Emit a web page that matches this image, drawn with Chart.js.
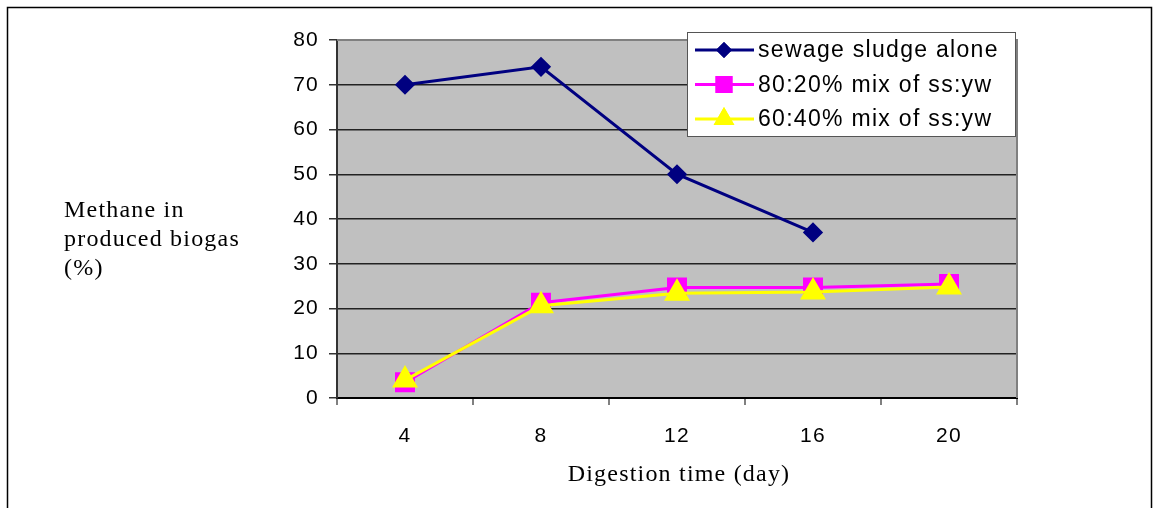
<!DOCTYPE html>
<html>
<head>
<meta charset="utf-8">
<script src="https://cdn.jsdelivr.net/npm/chart.js@4"></script>
<style>
  html, body { margin: 0; padding: 0; background: #fff; }
  #wrap { width: 1161px; height: 508px; position: relative; }
</style>
</head>
<body>
<div id="wrap"><canvas id="myChart" width="1161" height="508"></canvas></div>
<script>
    // Digestion days on the x axis
    const days = ['4', '8', '12', '16', '20'];

    // Methane content (%) per feed
    const sewageAlone = [70, 74, 50, 37, null];
    const mix8020 = [3.5, 21.3, 24.7, 24.7, 25.5];
    const mix6040 = [4, 20.6, 23.4, 23.7, 24.8];

    const seriesNames = ['sewage sludge alone', '80:20% mix of ss:yw', '60:40% mix of ss:yw'];

    const yTitle = ['Methane in', 'produced biogas', '(%)'];
    const xTitle = 'Digestion time (day)';

    const sans = '"Liberation Sans", Arial, sans-serif';
    const serif = '"Liberation Serif", "Times New Roman", serif';

    // gray plot background, outer frame, axis titles, legend box
    const frame = {
    id: 'frame',
    beforeDraw(chart) {
        const c = chart.ctx, a = chart.chartArea;
        c.save();
        c.fillStyle = '#c0c0c0';
        c.fillRect(a.left, a.top, a.right - a.left, a.bottom - a.top);
        c.restore();
        c.letterSpacing = '1.2px';
    },
    afterDraw(chart) {
        const c = chart.ctx, a = chart.chartArea;
        c.save();
        // plot border top / right
        c.strokeStyle = '#808080';
        c.lineWidth = 2;
        c.beginPath();
        c.moveTo(a.left, a.top);
        c.lineTo(a.right, a.top);
        c.lineTo(a.right, a.bottom);
        c.stroke();

        // outer frame
        c.strokeStyle = '#000';
        c.lineWidth = 1.5;
        c.beginPath();
        c.moveTo(7.5, 508);
        c.lineTo(7.5, 7.5);
        c.lineTo(1151.5, 7.5);
        c.lineTo(1151.5, 508);
        c.stroke();

        // titles
        c.fillStyle = '#000';
        c.letterSpacing = '1.2px';
        c.font = '24px ' + serif;
        c.textAlign = 'left';
        c.textBaseline = 'alphabetic';
        yTitle.forEach((t, i) => c.fillText(t, 64, 217 + i * 29));
        c.textAlign = 'center';
        c.fillText(xTitle, 679, 481);

        // legend box
        const lx = 687, ly = 32, lw = 328, lh = 104;
        c.fillStyle = '#fff';
        c.fillRect(lx, ly, lw, lh);
        c.strokeStyle = '#555';
        c.lineWidth = 1;
        c.strokeRect(lx + 0.5, ly + 0.5, lw, lh);

        c.font = '23px ' + sans;
        c.letterSpacing = '1.3px';
        c.textAlign = 'left';
        c.textBaseline = 'middle';
        chart.data.datasets.forEach((ds, i) => {
            const y = 50 + i * 34.5;
            c.strokeStyle = ds.borderColor;
            c.lineWidth = 3;
            c.beginPath();
            c.moveTo(695, y);
            c.lineTo(754, y);
            c.stroke();
            c.fillStyle = ds.pointBackgroundColor;
            Chart.helpers.drawPoint(c, {
                pointStyle: ds.pointStyle,
                radius: ds.pointRadius,
                borderWidth: 0,
                rotation: 0
            }, 724, y);
            c.fill();
            c.fillStyle = '#000';
            c.fillText(ds.label, 758, y + 1);
        });
        c.restore();
    }
};

    const ctx = document.getElementById('myChart');

    new Chart(ctx, {
    type: 'line',
    data: {
    labels: days,
    datasets: [{
    label: seriesNames[0],
    data: sewageAlone,
    borderColor: '#000080',
    backgroundColor: '#000080',
    pointBackgroundColor: '#000080',
    pointBorderColor: '#000080',
    pointStyle: 'rectRot',
    pointRadius: 8,
    borderWidth: 3,
    order: 3
},
{
    label: seriesNames[1],
    data: mix8020,
    borderColor: '#ff00ff',
    backgroundColor: '#ff00ff',
    pointBackgroundColor: '#ff00ff',
    pointBorderColor: '#ff00ff',
    pointStyle: 'rect',
    pointRadius: 12,
    borderWidth: 3,
    order: 2
},
{
    label: seriesNames[2],
    data: mix6040,
    borderColor: '#ffff00',
    backgroundColor: '#ffff00',
    pointBackgroundColor: '#ffff00',
    pointBorderColor: '#ffff00',
    pointStyle: 'triangle',
    pointRadius: 12,
    borderWidth: 3,
    order: 1
}]
},
    plugins: [frame],
    options: {
    responsive: false,
    animation: false,
    layout: { padding: { top: 40, right: 144, bottom: 0, left: 0 } },
    plugins: {
    legend: { display: false },
    tooltip: { enabled: false }
},
    elements: {
    line: { tension: 0 },
    point: { borderWidth: 1 }
},
    scales: {
    x: {
    offset: true,
    afterFit(s) { s.height = 110; },
    grid: {
    offset: true,
    drawOnChartArea: false,
    drawTicks: true,
    tickLength: 7,
    color: '#808080',
    lineWidth: 2
},
    border: { color: '#000', width: 2 },
    ticks: {
    color: '#000',
    font: { family: sans, size: 21 },
    padding: 19,
    maxRotation: 0
}
},
    y: {
    min: 0,
    max: 80,
    afterFit(s) { s.width = 337; },
    grid: {
    color: (c) => c.tick && c.tick.value === 80 ? '#808080' : '#222',
    lineWidth: 1.5,
    tickLength: 8,
    tickColor: '#333'
},
    border: { color: '#333', width: 2 },
    ticks: {
    stepSize: 10,
    color: '#000',
    font: { family: sans, size: 21 },
    padding: 10
}
}
}
}
});
</script>
</body>
</html>
